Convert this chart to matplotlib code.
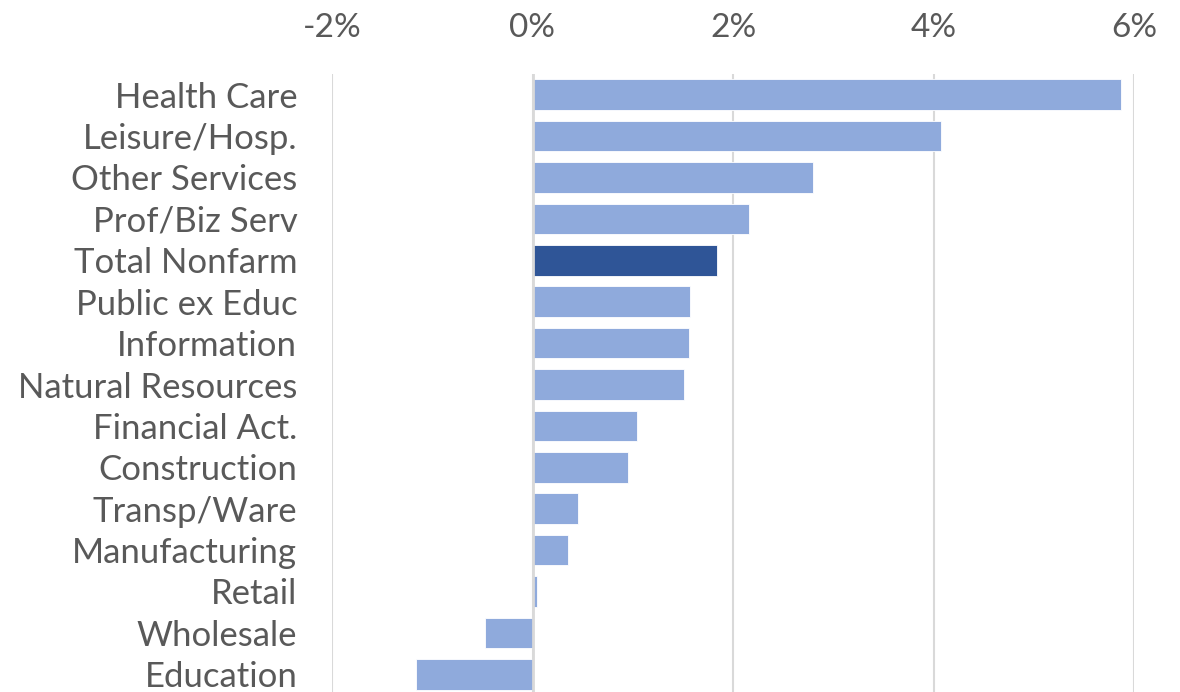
import matplotlib
matplotlib.use('Agg')
import matplotlib.pyplot as plt

# Year-over-year job growth by sector (%)
sectors = ['Health Care', 'Leisure/Hosp.', 'Other Services', 'Prof/Biz Serv',
           'Total Nonfarm', 'Public ex Educ', 'Information', 'Natural Resources',
           'Financial Act.', 'Construction', 'Transp/Ware', 'Manufacturing',
           'Retail', 'Wholesale', 'Education']
growth = [5.87, 4.07, 2.80, 2.16, 1.84, 1.57, 1.56, 1.51,
          1.04, 0.95, 0.45, 0.35, 0.04, -0.47, -1.16]
ticks = [-2, 0, 2, 4, 6]

light = '#8FAADC'
dark = '#2F5597'
txt = '#595959'

plt.rcParams['font.family'] = ['Lato', 'DejaVu Sans']

fig = plt.figure(figsize=(11.8, 6.92), dpi=100)
ax = fig.add_axes([332 / 1180, -3 / 692, 802 / 1180, 621 / 692])

colors = [dark if s == 'Total Nonfarm' else light for s in sectors]
ypos = list(range(len(sectors)))
ax.barh(ypos, growth, height=0.74, color=colors, edgecolor='white',
        linewidth=0.6, zorder=2)

ax.set_xlim(-2, 6)
ax.set_ylim(len(sectors) - 0.5, -0.5)
ax.set_xticks(ticks)
ax.set_xticklabels(['%d%%' % t for t in ticks])
ax.set_yticks(ypos)
ax.set_yticklabels(sectors)

ax.xaxis.tick_top()
ax.tick_params(axis='x', length=0, pad=22, labelsize=24, labelcolor=txt)
ax.tick_params(axis='y', length=0, pad=25, labelsize=25, labelcolor=txt)
ax.grid(axis='x', color='#D9D9D9', linewidth=1.5, zorder=1)
ax.axvline(0, color='#D9D9D9', linewidth=2, zorder=3)
for sp in ax.spines.values():
    sp.set_visible(False)

fig.savefig('out.png', dpi=100)
